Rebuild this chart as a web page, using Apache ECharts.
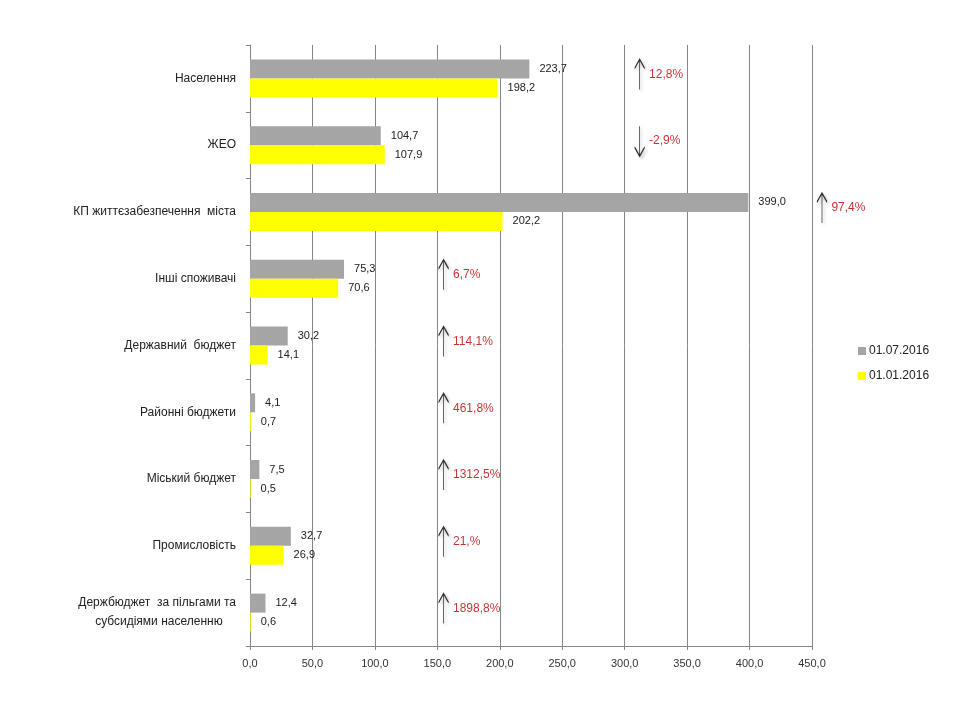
<!DOCTYPE html>
<html>
<head>
<meta charset="utf-8">
<script src="https://cdn.jsdelivr.net/npm/echarts@6/dist/echarts.min.js"></script>
<style>html,body{margin:0;padding:0;background:#fff;}#c{width:960px;height:720px;}</style>
</head>
<body>
<div id="c"></div>
<script>
var categories = ['Населення', 'ЖЕО', 'КП життєзабезпечення  міста', 'Інші споживачі', 'Державний  бюджет', 'Районні бюджети', 'Міський бюджет', 'Промисловість', 'Держбюджет  за пільгами та\nсубсидіями населенню    '];
var seriesNames = ['01.07.2016', '01.01.2016'];
var values0107 = [223.7, 104.7, 399.0, 75.3, 30.2, 4.1, 7.5, 32.7, 12.4];
var values0101 = [198.2, 107.9, 202.2, 70.6, 14.1, 0.7, 0.5, 26.9, 0.6];
var changeLabels = ['12,8%', '-2,9%', '97,4%', '6,7%', '114,1%', '461,8%', '1312,5%', '21,%', '1898,8%'];
var changeDirection = ['up', 'down', 'up', 'up', 'up', 'up', 'up', 'up', 'up'];
var arrowX = [312, 312, 458, 155, 155, 155, 155, 155, 155];
var xTicks = [0, 50, 100, 150, 200, 250, 300, 350, 400, 450];

function fmt(v) { return v.toFixed(1).replace('.', ','); }

var upPath = 'path://M5 0 L5 30 M0 9 L5 0 L10 9';
var downPath = 'path://M5 0 L5 30 M0 21 L5 30 L10 21';

var arrowData = categories.map(function (c, i) {
  return {
    value: [arrowX[i], i],
    symbol: changeDirection[i] === 'up' ? upPath : downPath,
    label: { formatter: changeLabels[i] }
  };
});

var chart = echarts.init(document.getElementById('c'));
chart.setOption({
  animation: false,
  textStyle: { fontFamily: 'Liberation Sans, Arial, sans-serif' },
  grid: { left: 250, right: 148, top: 45, bottom: 74, containLabel: false },
  legend: {
    orient: 'vertical', left: 853, top: 340,
    itemWidth: 8, itemHeight: 8, itemGap: 13,
    icon: 'rect',
    textStyle: { fontSize: 12, color: '#222', padding: [0, 0, 0, -2] },
    data: seriesNames
  },
  xAxis: {
    type: 'value', min: 0, max: 450, interval: 50,
    axisLine: { show: true, lineStyle: { color: '#868686' } },
    axisTick: { show: true, length: 4, lineStyle: { color: '#868686' } },
    splitLine: { show: true, lineStyle: { color: '#868686', width: 1 } },
    axisLabel: { formatter: function (v) { return fmt(v); }, fontSize: 11, color: '#333', margin: 12 }
  },
  yAxis: {
    type: 'category', inverse: true, data: categories,
    axisLine: { show: true, lineStyle: { color: '#868686' } },
    axisTick: { show: true, length: 4, lineStyle: { color: '#868686' } },
    axisLabel: { fontSize: 12, color: '#222', margin: 14, lineHeight: 19 }
  },
  series: [
    {
      name: seriesNames[0], type: 'bar', data: values0107,
      barWidth: 19, barGap: '0%',
      itemStyle: { color: '#A5A5A5' },
      label: { show: true, position: 'right', distance: 10, fontSize: 11, color: '#222', formatter: function (p) { return fmt(p.value); } }
    },
    {
      name: seriesNames[1], type: 'bar', data: values0101,
      barWidth: 19, barGap: '0%',
      itemStyle: { color: '#FFFF00' },
      label: { show: true, position: 'right', distance: 10, fontSize: 11, color: '#222', formatter: function (p) { return fmt(p.value); } }
    },
    {
      type: 'scatter', data: arrowData, clip: false, silent: true,
      symbolSize: [10, 30], symbolOffset: [0, -4],
      itemStyle: { color: 'none', borderColor: '#000', borderWidth: 1.3, shadowBlur: 3, shadowColor: 'rgba(0,0,0,0.3)', shadowOffsetX: 2, shadowOffsetY: 2 },
      label: { show: true, position: 'right', distance: 3, fontSize: 12, color: '#B80000' }
    }
  ]
});
</script>
</body>
</html>
